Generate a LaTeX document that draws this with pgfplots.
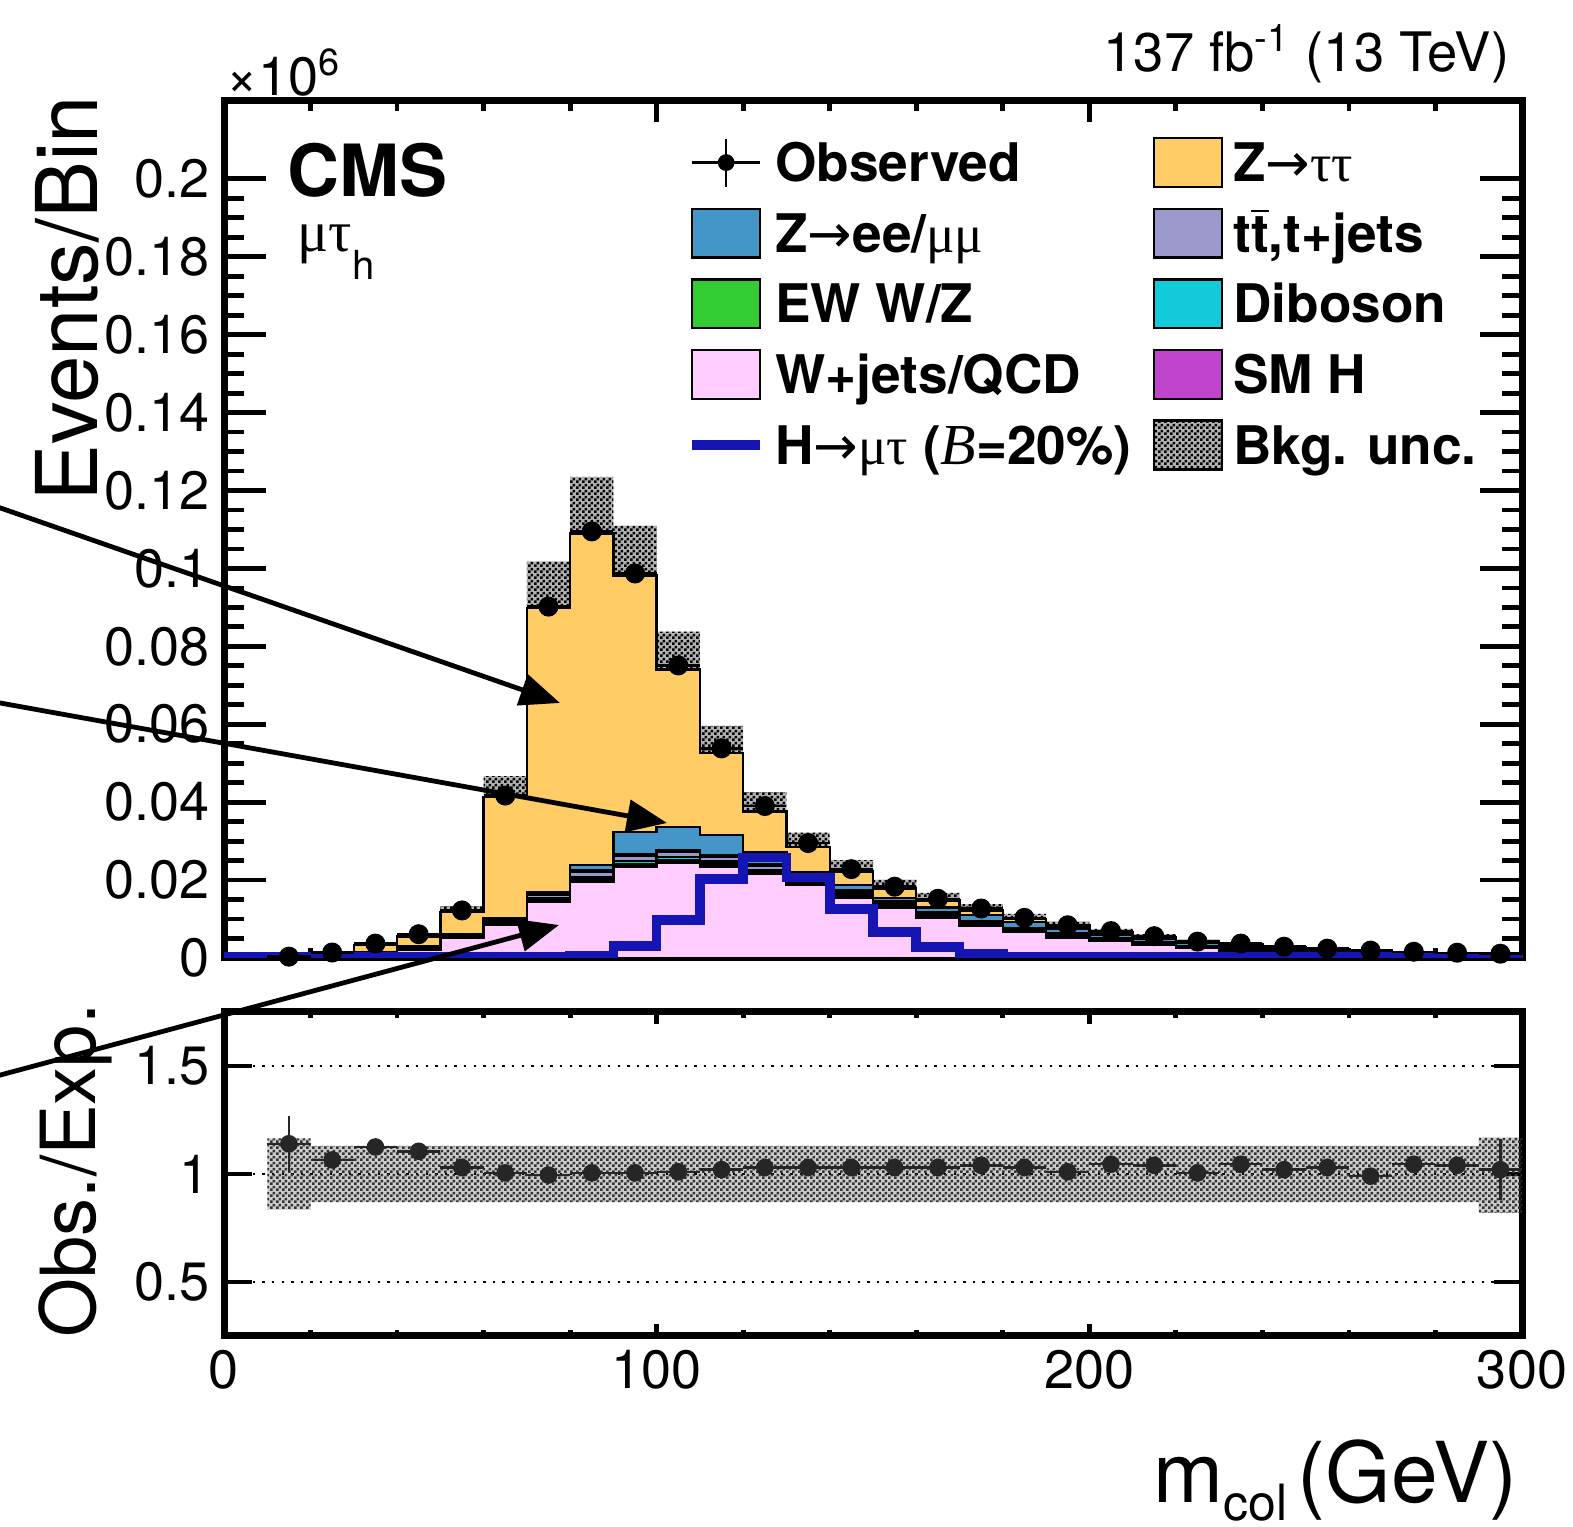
\documentclass[border=0pt]{standalone}
\usepackage{pgfplots}
\pgfplotsset{compat=1.18}
\usepackage{pgfplotstable}
\usepgfplotslibrary{fillbetween}
\usetikzlibrary{patterns.meta,arrows.meta}
\usepackage{fontspec}
\setmainfont{TeX Gyre Heros}
\newfontfamily\grk{Liberation Serif}
\newfontfamily\arr{DejaVu Sans}

\definecolor{cztt}{RGB}{255,204,102}
\definecolor{czll}{RGB}{68,150,200}
\definecolor{cew}{RGB}{51,204,51}
\definecolor{ctt}{RGB}{155,152,204}
\definecolor{cvv}{RGB}{18,202,218}
\definecolor{cwj}{RGB}{255,204,255}
\definecolor{csmh}{RGB}{192,68,204}
\definecolor{csig}{RGB}{21,21,180}

% fine checkerboard, like the ROOT hatch of the unc. band
\tikzdeclarepattern{
  name=checker,
  type=uncolored,
  bottom left={(0pt,0pt)},
  top right={(1.5pt,1.5pt)},
  tile size={(1.5pt,1.5pt)},
  code={
    \fill (0pt,0pt) rectangle (0.75pt,0.75pt);
    \fill (0.75pt,0.75pt) rectangle (1.5pt,1.5pt);
  }
}

% cumulative stack tops (x10^6 events), left bin edge; last row closes the 290-300 bin
\pgfplotstableread{
x   wj       smh      dib       tt        ew      zll     tot     unc
10  0.0001   0.00012  0.000145  0.000185  0.0002  0.0002  0.0003  0.00005
20  0.0004   0.00044  0.00049   0.00057   0.0006  0.0007  0.0013  0.00017
30  0.0010   0.00106  0.001135  0.001255  0.0013  0.0016  0.0033  0.00043
40  0.0022   0.00228  0.00238   0.00254   0.0026  0.0030  0.0055  0.00072
50  0.0052   0.00532  0.00547   0.00571   0.0058  0.0062  0.0118  0.0015
60  0.0086   0.00884  0.00914   0.00962   0.0098  0.0102  0.0413  0.0054
70  0.0145   0.0149   0.0154    0.0162    0.0165  0.0170  0.0898  0.0120
80  0.0195   0.0201   0.02085   0.02205   0.0225  0.0238  0.1090  0.0145
90  0.0235   0.02414  0.02494   0.02622   0.0267  0.0323  0.0982  0.0128
100 0.0245   0.02514  0.02594   0.02722   0.0277  0.0336  0.0741  0.0097
110 0.0235   0.02406  0.02476   0.02588   0.0263  0.0315  0.0526  0.0070
120 0.0215   0.0220   0.022625  0.023625  0.0240  0.0272  0.0376  0.0050
130 0.0188   0.01924  0.01979   0.02067   0.0210  0.0220  0.0285  0.0037
140 0.0154   0.0158   0.0163    0.0171    0.0174  0.0187  0.0222  0.0029
150 0.0128   0.01314  0.013565  0.014245  0.0145  0.0154  0.0178  0.0023
160 0.0103   0.0106   0.010975  0.011575  0.0118  0.0130  0.0148  0.0019
170 0.0082   0.00846  0.008785  0.009305  0.0095  0.0110  0.0122  0.0016
180 0.0066   0.00682  0.007095  0.007535  0.0077  0.0092  0.0100  0.0013
190 0.0053   0.0055   0.00575   0.00615   0.0063  0.0076  0.0083  0.0011
200 0.0043   0.00446  0.00466   0.00498   0.0051  0.0060  0.0066  0.00086
210 0.0033   0.00344  0.003615  0.003895  0.0040  0.0049  0.0054  0.0007
220 0.0025   0.00262  0.00277   0.00301   0.0031  0.0038  0.0042  0.00055
230 0.0019   0.0020   0.002125  0.002325  0.0024  0.0031  0.0035  0.00046
240 0.0014   0.0015   0.001625  0.001825  0.0019  0.0025  0.0028  0.00036
250 0.0011   0.00118  0.00128   0.00144   0.0015  0.0020  0.0023  0.0003
260 0.0008   0.00088  0.00098   0.00114   0.0012  0.0017  0.0019  0.00025
270 0.0006   0.00066  0.000735  0.000855  0.0009  0.0013  0.0015  0.0002
280 0.0005   0.00056  0.000635  0.000755  0.0008  0.0011  0.0013  0.00017
290 0.0004   0.00046  0.000535  0.000655  0.0007  0.0010  0.0011  0.00019
300 0.0004   0.00046  0.000535  0.000655  0.0007  0.0010  0.0011  0.00019
}\stack

% H -> mu tau signal (B=20%)
\pgfplotstableread{
x   sig
0   0.0004
10  0.0003
20  0.0003
30  0.0003
40  0.0003
50  0.0003
60  0.0003
70  0.0003
80  0.0005
90  0.0030
100 0.0097
110 0.0203
120 0.0258
130 0.0207
140 0.0126
150 0.0066
160 0.0028
170 0.0010
180 0.0004
190 0.0004
200 0.0004
210 0.0004
220 0.0004
230 0.0004
240 0.0004
250 0.0004
260 0.0004
270 0.0004
280 0.0004
290 0.0004
300 0.0004
}\signal

% observed events and obs./exp. ratio
\pgfplotstableread{
xc  obs      rat    rerr
15  0.00034  1.14   0.13
25  0.0014   1.065  0.01
35  0.0037   1.125  0.01
45  0.0061   1.105  0.01
55  0.0122   1.03   0.005
65  0.0417   1.005  0.004
75  0.0902   0.995  0.003
85  0.1095   1.005  0.003
95  0.0987   1.005  0.003
105 0.0751   1.01   0.003
115 0.0538   1.02   0.004
125 0.0390   1.03   0.004
135 0.0295   1.03   0.005
145 0.0228   1.03   0.005
155 0.0183   1.03   0.006
165 0.0152   1.03   0.006
175 0.0127   1.04   0.007
185 0.0103   1.03   0.007
195 0.0084   1.01   0.008
205 0.0069   1.045  0.008
215 0.0056   1.04   0.009
225 0.0042   1.005  0.01
235 0.0037   1.045  0.01
245 0.0029   1.02   0.01
255 0.0024   1.03   0.01
265 0.0019   0.99   0.01
275 0.0016   1.045  0.01
285 0.00135  1.04   0.01
295 0.0011   1.02   0.14
}\obsdata

% relative background uncertainty for the ratio panel
\pgfplotstableread{
x   lo     hi
10  0.835  1.165
20  0.87   1.13
30  0.87   1.13
40  0.87   1.13
50  0.87   1.13
60  0.87   1.13
70  0.87   1.13
80  0.87   1.13
90  0.87   1.13
100 0.87   1.13
110 0.87   1.13
120 0.87   1.13
130 0.87   1.13
140 0.87   1.13
150 0.87   1.13
160 0.87   1.13
170 0.87   1.13
180 0.87   1.13
190 0.87   1.13
200 0.87   1.13
210 0.87   1.13
220 0.87   1.13
230 0.87   1.13
240 0.87   1.13
250 0.87   1.13
260 0.87   1.13
270 0.87   1.13
280 0.87   1.13
290 0.82   1.17
300 0.82   1.17
}\ratband

\pgfplotsset{
  cmsbox/.style={
    scale only axis, width=324.5pt,
    xmin=0, xmax=300,
    tick pos=both, tick align=inside,
    axis line style={line width=1.75pt},
    tick style={line width=1.2pt, black},
    tick label style={font=\fontsize{13.5}{16}\selectfont},
    /pgf/number format/assume math mode=true,
    scaled ticks=false,
  },
  boxleg/.style={legend image code/.code={%
    \draw[fill=#1, draw=black, line width=0.6pt] (0pt,-6.1pt) rectangle (17pt,6.1pt);}},
}

\begin{document}
\begin{tikzpicture}

% ---------- main panel ----------
\begin{axis}[cmsbox,
  at={(56pt,142.25pt)}, anchor=south west, height=214.25pt,
  ymin=0, ymax=0.22,
  axis on top,
  xtick={0,100,200,300}, xticklabels={}, minor x tick num=4,
  ytick={0,0.02,0.04,0.06,0.08,0.1,0.12,0.14,0.16,0.18,0.2},
  yticklabels={0,0.02,0.04,0.06,0.08,0.1,0.12,0.14,0.16,0.18,0.2},
  minor y tick num=3,
  major tick length=10.5pt, minor tick length=5pt,
  xtick style={/pgfplots/major tick length=5.25pt,/pgfplots/minor tick length=2.5pt},
  legend columns=2, legend cell align=left,
  legend style={at={(0.357,0.958)}, anchor=north west, draw=none, fill=none,
    inner sep=0pt, outer sep=0pt,
    nodes={inner sep=0pt, text height=9.6pt, text depth=0pt},
    row sep=4.85pt,
    /tikz/every odd column/.append style={column sep=2.6pt},
    /tikz/column 2/.append style={column sep=5.3pt},
    font=\bfseries\fontsize{13.3}{15}\selectfont},
]
\addplot[forget plot, const plot, fill=cztt, draw=black, line width=0.6pt] table[x=x, y=tot] {\stack} \closedcycle;
\addplot[forget plot, const plot, fill=czll, draw=black, line width=0.6pt] table[x=x, y=zll] {\stack} \closedcycle;
\addplot[forget plot, const plot, fill=cew, draw=black, line width=0.6pt] table[x=x, y=ew] {\stack} \closedcycle;
\addplot[forget plot, const plot, fill=ctt, draw=black, line width=0.6pt] table[x=x, y=tt] {\stack} \closedcycle;
\addplot[forget plot, const plot, fill=cvv, draw=black, line width=0.6pt] table[x=x, y=dib] {\stack} \closedcycle;
\addplot[forget plot, const plot, fill=csmh, draw=black, line width=0.6pt] table[x=x, y=smh] {\stack} \closedcycle;
\addplot[forget plot, const plot, fill=cwj, draw=black, line width=0.6pt] table[x=x, y=wj] {\stack} \closedcycle;

% background uncertainty band
\addplot[forget plot, name path=bu, const plot, draw=none] table[x=x, y expr=\thisrow{tot}+\thisrow{unc}] {\stack};
\addplot[forget plot, name path=bl, const plot, draw=none] table[x=x, y expr=\thisrow{tot}-\thisrow{unc}] {\stack};
\addplot[forget plot, fill=black, fill opacity=0.3, draw=none] fill between[of=bu and bl];
\addplot[forget plot, pattern=checker, pattern color=black, draw=none] fill between[of=bu and bl];

% signal
\addplot[forget plot, const plot, csig, line width=2.4pt] table[x=x, y=sig] {\signal};

% observed
\addplot[forget plot, only marks, mark=*, mark size=2.3pt, black,
  error bars/.cd, x dir=both, x fixed=5, error mark=none,
  error bar style={line width=0.6pt}]
  table[x=xc, y=obs] {\obsdata};

% legend (row-wise, two columns)
\addlegendimage{legend image code/.code={%
  \draw[black, line width=0.6pt] (0pt,0pt) -- (17pt,0pt);
  \draw[black, line width=0.6pt] (8.5pt,-6pt) -- (8.5pt,6pt);
  \fill[black] (8.5pt,0pt) circle (1.9pt);}}
\addlegendentry{Observed}
\addlegendimage{boxleg=cztt}
\addlegendentry{Z{\arr\mdseries →}{\grk\mdseries ττ}}
\addlegendimage{boxleg=czll}
\addlegendentry{Z{\arr\mdseries →}ee/{\grk\mdseries μμ}}
\addlegendimage{boxleg=ctt}
\addlegendentry{t$\overline{\mbox{t}}$,t+jets}
\addlegendimage{boxleg=cew}
\addlegendentry{EW W/Z}
\addlegendimage{boxleg=cvv}
\addlegendentry{Diboson}
\addlegendimage{boxleg=cwj}
\addlegendentry{W+jets/QCD}
\addlegendimage{boxleg=csmh}
\addlegendentry{SM H}
\addlegendimage{legend image code/.code={%
  \draw[csig, line width=2.4pt] (0pt,0pt) -- (17pt,0pt);}}
\addlegendentry{H{\arr\mdseries →}{\grk\mdseries μτ} ({\grk\mdseries\itshape\fontsize{14.5}{15}\selectfont B}=20\%)}
\addlegendimage{legend image code/.code={%
  \fill[black, fill opacity=0.3] (0pt,-6.1pt) rectangle (17pt,6.1pt);
  \draw[pattern=checker, pattern color=black, draw=black, line width=0.6pt] (0pt,-6.1pt) rectangle (17pt,6.1pt);}}
\addlegendentry{Bkg. unc.}
\end{axis}

% ---------- ratio panel ----------
\begin{axis}[cmsbox,
  at={(56pt,47.75pt)}, anchor=south west, height=81pt,
  ymin=0.25, ymax=1.75,
  xtick={0,100,200,300}, xticklabels={0,100,200,300}, minor x tick num=4,
  ytick={0.5,1,1.5}, yticklabels={0.5,1,1.5},
  major tick length=7pt, minor tick length=1.5pt,
  xtick style={/pgfplots/major tick length=3pt,/pgfplots/minor tick length=1.5pt},
  ymajorgrids, grid style={black, line width=0.6pt, dash pattern=on 0.6pt off 1.8pt},
]
\addplot[only marks, mark=*, mark size=2pt, black!85,
  error bars/.cd, x dir=both, x fixed=5, y dir=both, y explicit, error mark=none,
  error bar style={line width=0.6pt}]
  table[x=xc, y=rat, y error=rerr] {\obsdata};
\addplot[name path=ru, const plot, draw=none] table[x=x, y=hi] {\ratband};
\addplot[name path=rl, const plot, draw=none] table[x=x, y=lo] {\ratband};
\addplot[fill=black, fill opacity=0.2, draw=none] fill between[of=ru and rl];
\addplot[pattern=checker, pattern color=black!80, draw=none] fill between[of=ru and rl];
\end{axis}

% ---------- labels ----------
\node[anchor=base east, inner sep=0pt, font=\fontsize{13.6}{16}\selectfont] at (377.5pt,363.75pt) {137 fb\textsuperscript{-1} (13 TeV)};
\node[anchor=base west, inner sep=0pt, font=\fontsize{13.5}{15}\selectfont] at (56.5pt,357.75pt) {×10\textsuperscript{6}};
\node[anchor=base west, inner sep=0pt, font=\bfseries\fontsize{18}{20}\selectfont] at (71.75pt,332.5pt) {CMS};
\node[anchor=base west, inner sep=0pt, text height=6pt, font=\fontsize{14.5}{16}\selectfont] at (74.25pt,318.75pt) {{\grk μτ}\raisebox{-7pt}{\fontsize{10}{11}\selectfont h}};
\node[rotate=90, anchor=base east, inner sep=0pt, font=\fontsize{21.3}{24}\selectfont] at (24.25pt,358pt) {Events/Bin};
\node[rotate=90, anchor=base east, inner sep=0pt, font=\fontsize{19}{22}\selectfont] at (23.75pt,131pt) {Obs./Exp.};
\node[anchor=base east, inner sep=0pt, font=\fontsize{21}{24}\selectfont] at (379.5pt,6pt) {m\raisebox{-4.5pt}{\fontsize{12.5}{15}\selectfont col}\hspace{0.12em}(GeV)};

% annotation arrows coming in from the left
\draw[line width=1.2pt, -{Triangle[length=10pt,width=8pt]}] (-25pt,263.5pt) -- (140pt,206pt);
\draw[line width=1.2pt, -{Triangle[length=10pt,width=8pt]}] (-25pt,210.5pt) -- (166.75pt,176pt);
\draw[line width=1.2pt, -{Triangle[length=10pt,width=8pt]}] (-25pt,106.25pt) -- (139.75pt,150.5pt);

\pgfresetboundingbox
\useasboundingbox (0pt,0pt) rectangle (393.25pt,381.75pt);
\end{tikzpicture}
\end{document}
